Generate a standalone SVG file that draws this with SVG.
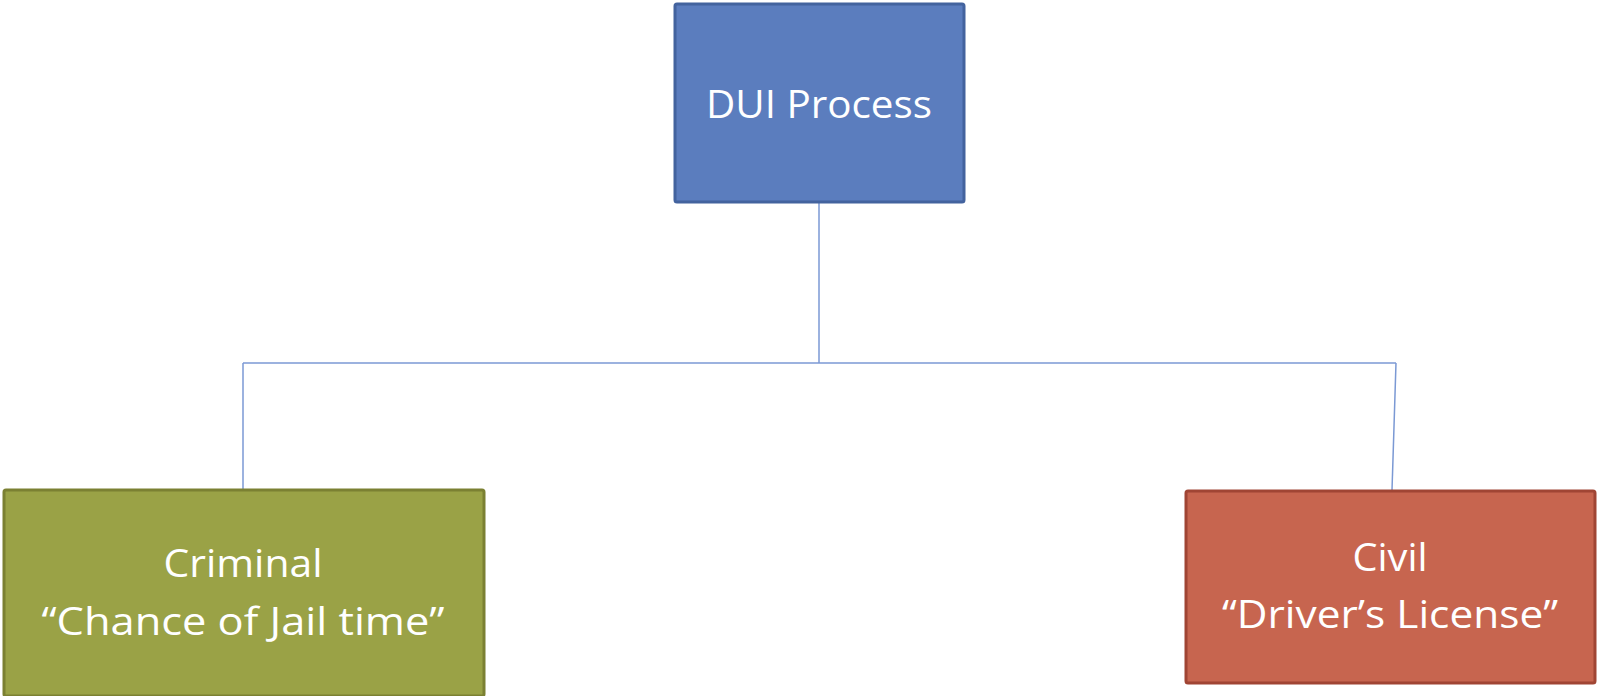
<svg xmlns="http://www.w3.org/2000/svg" width="1598" height="696" viewBox="0 0 1598 696">
<style>
.box{stroke-width:3}
.lbl{font-family:"Open Sans","Liberation Sans",sans-serif;fill:#ffffff;text-anchor:middle;font-size:38px}
.conn{stroke:#7b99d4;stroke-width:1.5;fill:none}
</style>
<rect width="1598" height="696" fill="#ffffff"/>
<g id="connectors">
<path class="conn" d="M819,202 L819,363"/>
<path class="conn" d="M243,363 L1396,363"/>
<path class="conn" d="M243,363 L243,489"/>
<path class="conn" d="M1396,363 L1392,490"/>
</g>
<g id="node-dui">
<rect class="box" x="675" y="4" width="289" height="198" rx="2" fill="#5b7dbe" stroke="#43639e"/>
<text class="lbl" x="819" y="118" textLength="226" lengthAdjust="spacingAndGlyphs">DUI Process</text>
</g>
<g id="node-criminal">
<rect class="box" x="4" y="490" width="480" height="206" rx="2" fill="#9aa246" stroke="#7b8032"/>
<text class="lbl" x="243" y="577" textLength="159" lengthAdjust="spacingAndGlyphs">Criminal</text>
<text class="lbl" x="243" y="635" textLength="403" lengthAdjust="spacingAndGlyphs">“Chance of Jail time”</text>
</g>
<g id="node-civil">
<rect class="box" x="1186" y="491" width="409" height="192" rx="2" fill="#c7654f" stroke="#a04534"/>
<text class="lbl" x="1390" y="571" textLength="75" lengthAdjust="spacingAndGlyphs">Civil</text>
<text class="lbl" x="1390" y="628" textLength="336" lengthAdjust="spacingAndGlyphs">“Driver’s License”</text>
</g>
</svg>
